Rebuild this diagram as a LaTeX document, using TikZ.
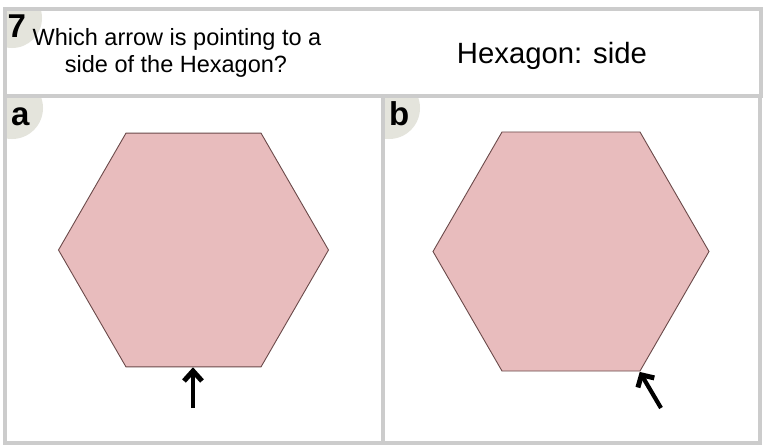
\documentclass[tikz,border=0pt]{standalone}
\usepackage{fontspec}
\setmainfont{Liberation Sans}
\usetikzlibrary{calc}
\definecolor{framegray}{HTML}{CCCCCC}
\definecolor{badgegray}{HTML}{E4E4DC}
\definecolor{hexfill}{HTML}{E8BCBD}
\definecolor{hexline}{HTML}{6B4A4A}
\begin{document}
\begin{tikzpicture}[x=1pt,y=-1pt,
  framebox/.style={draw=framegray,line width=4pt},
  badge/.style={fill=badgegray},
  badgetext/.style={font=\fontsize{33}{36}\selectfont\bfseries,anchor=base west,inner sep=0pt},
  question/.style={font=\fontsize{23.5}{27}\selectfont,anchor=base,inner sep=0pt},
  answer/.style={font=\fontsize{29.3}{32}\selectfont,anchor=base,inner sep=0pt},
  hexshape/.style={fill=hexfill,draw=hexline,line width=0.9pt,line join=miter},
  pointer/.style={draw=black,line width=4.2pt},
  barb/.style={draw=black,line width=5pt,line join=miter,miter limit=10}]
\useasboundingbox (0,0) rectangle (768,445);
\fill[white] (0,0) rectangle (768,445);
% badges
\begin{scope}
  \clip (5,9) rectangle (761,96);
  \fill[badge] (12,18) circle (30);
\end{scope}
\begin{scope}
  \clip (5,96) rectangle (383,443);
  \fill[badge] (12,108) circle (31);
\end{scope}
\begin{scope}
  \clip (383,96) rectangle (760,443);
  \fill[badge] (389,108) circle (31);
\end{scope}
% frames
\draw[framebox] (5,9) rectangle (761,96);
\draw[framebox] (5,96) rectangle (383,443);
\draw[framebox] (383,96) rectangle (760,443);
% texts
\node[badgetext] (num) at (7.5,37) {7};
\node[badgetext] (la) at (11,125) {a};
\node[badgetext] (lb) at (389,125) {b};
\node[question] (q1) at (177,45) {Which arrow is pointing to a};
\node[question] (q2) at (176,72) {side of the Hexagon?};
\node[answer] (ans) at (552,63) {Hexagon: side};
% hexagon a
\coordinate (ca) at (193.5,250);
\draw[hexshape] ($(ca)+(0:135)$) -- ($(ca)+(60:135)$) -- ($(ca)+(120:135)$) -- ($(ca)+(180:135)$) -- ($(ca)+(240:135)$) -- ($(ca)+(300:135)$) -- cycle;
% hexagon b
\coordinate (cb) at (571,251.5);
\draw[hexshape] ($(cb)+(0:138)$) -- ($(cb)+(60:138)$) -- ($(cb)+(120:138)$) -- ($(cb)+(180:138)$) -- ($(cb)+(240:138)$) -- ($(cb)+(300:138)$) -- cycle;
% arrow a
\coordinate (tailA) at (193,408);
\coordinate (tipA) at (193,371);
\coordinate (barbA1) at (184,381);
\coordinate (barbA2) at (202,381);
\draw[pointer] (tailA) -- (tipA);
\draw[barb] (barbA1) -- (tipA) -- (barbA2);
% arrow b
\coordinate (tailB) at (661,408);
\coordinate (tipB) at (641.5,374.9);
\coordinate (barbB1) at (637.9,387.5);
\coordinate (barbB2) at (654.3,377.9);
\draw[pointer] (tailB) -- (tipB);
\draw[barb] (barbB1) -- (tipB) -- (barbB2);
\end{tikzpicture}
\end{document}
